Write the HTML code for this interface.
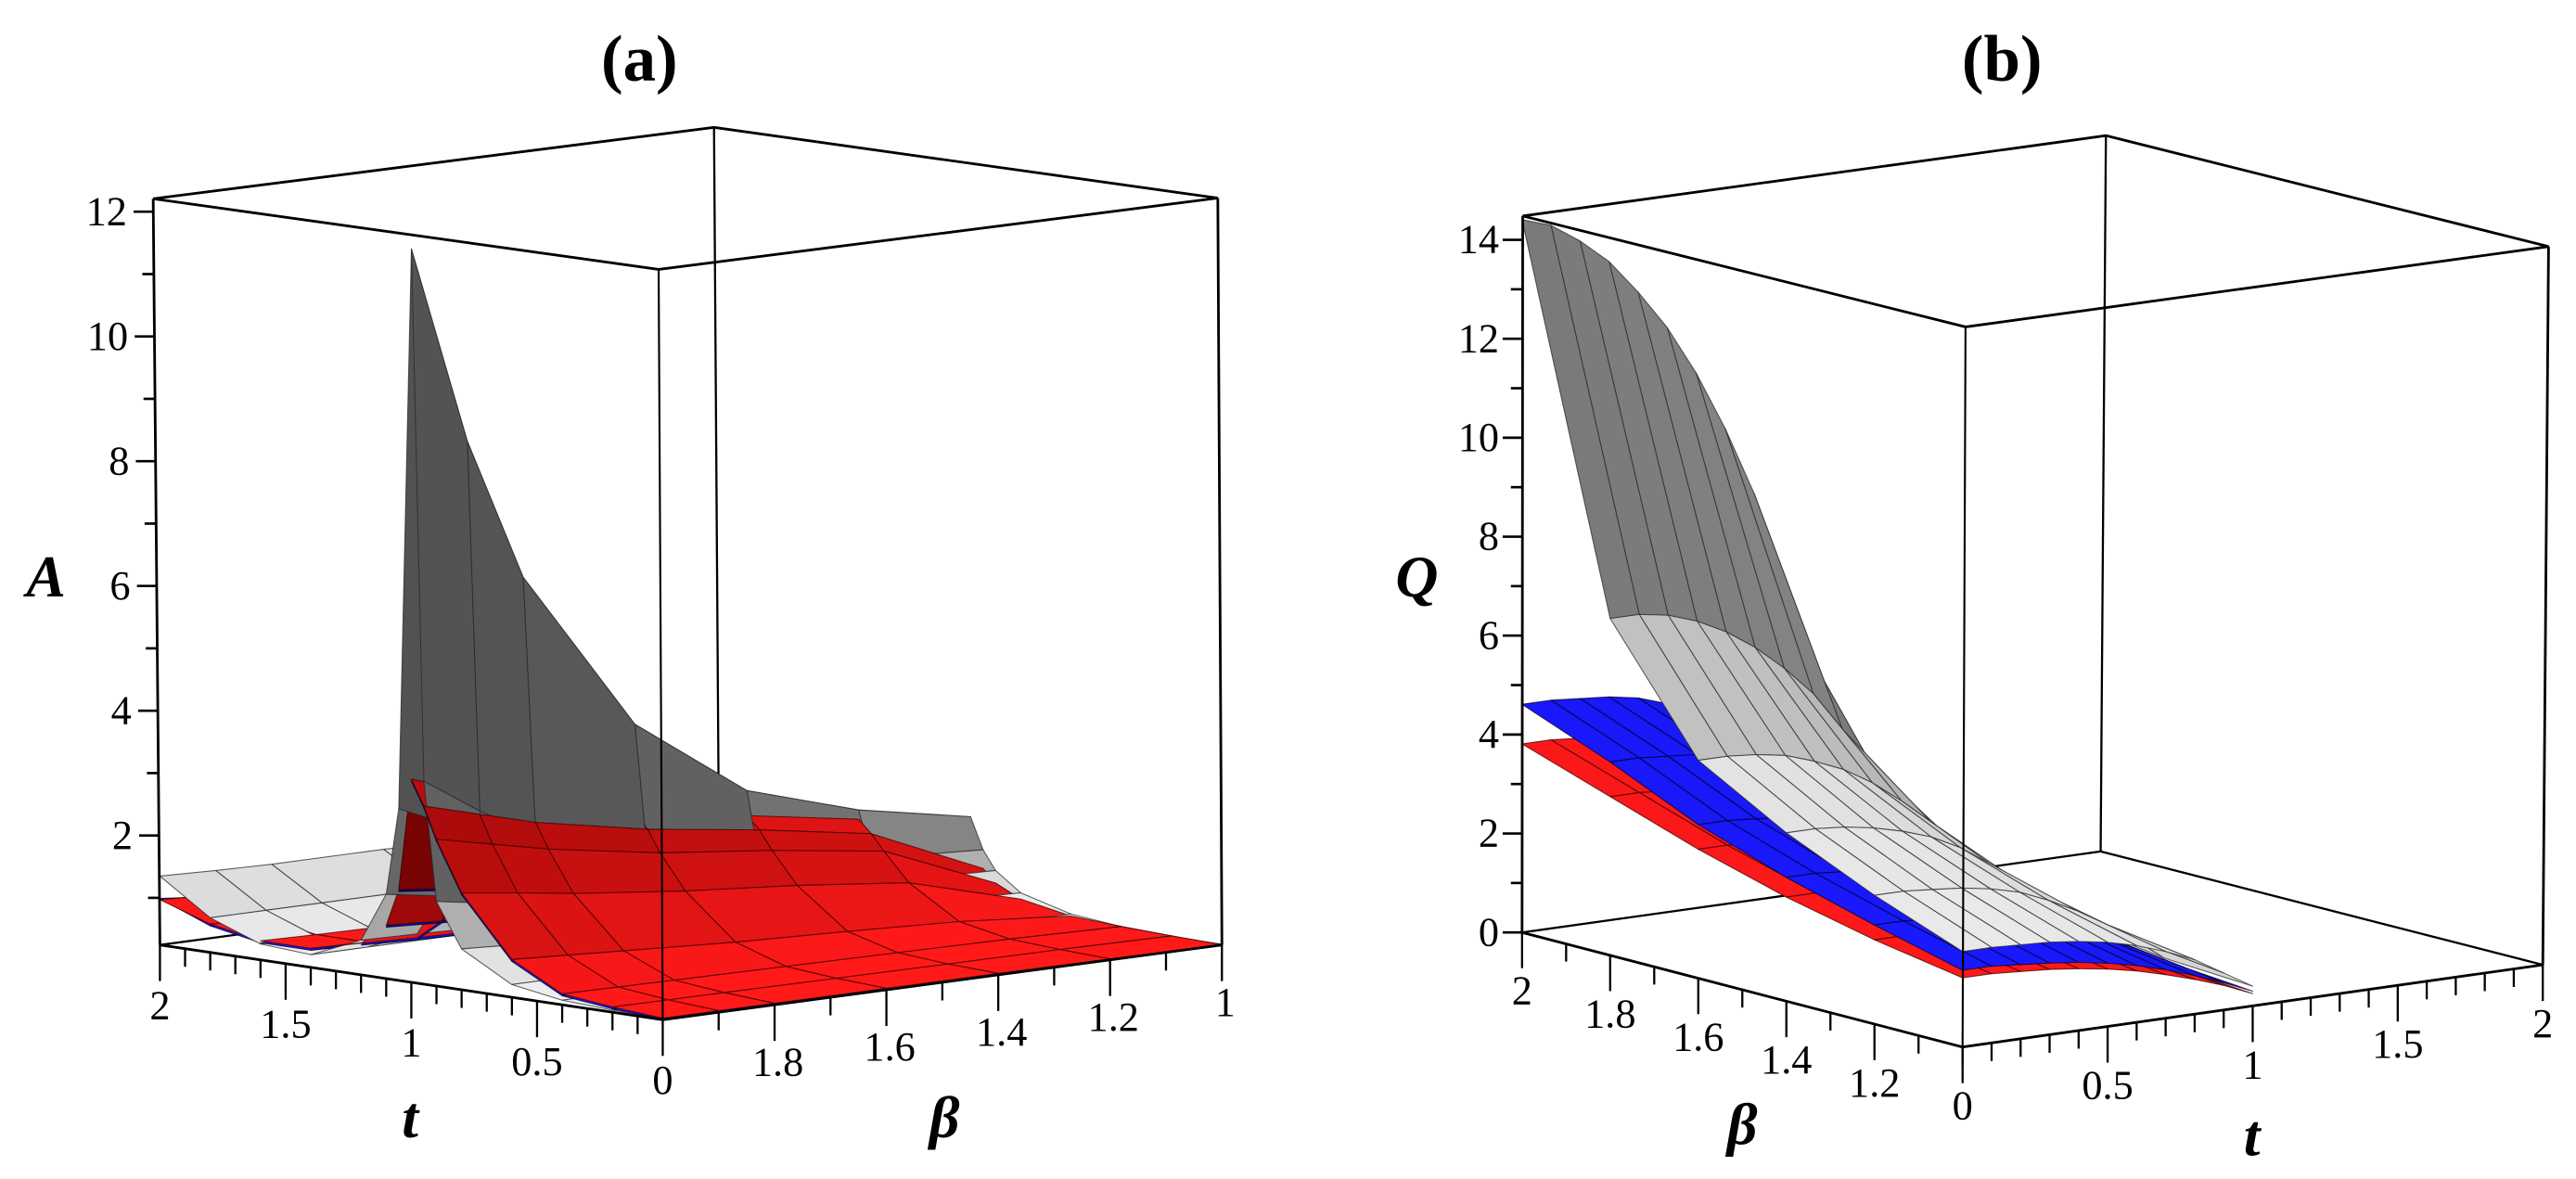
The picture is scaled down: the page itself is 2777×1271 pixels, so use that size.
<!DOCTYPE html>
<html><head><meta charset="utf-8"><style>
html,body{margin:0;padding:0;background:#fff;}
svg{display:block;}
text{font-family:"Liberation Serif","DejaVu Serif",serif;fill:#000;}
.tick{font-size:25px;}
.ttl{font-size:40px;font-weight:bold;}
.ax{font-size:36px;font-weight:bold;font-style:italic;}
</style></head><body>
<svg id="fig" xmlns="http://www.w3.org/2000/svg" width="2777" height="1271" viewBox="0 0 1567.2 717.3" preserveAspectRatio="none">
<g id="panelA">
  <text class="ttl" x="389" y="49" text-anchor="middle">(a)</text>
  <g id="aBack" stroke="#000" stroke-width="1.3" fill="none">
    <line x1="434.4" y1="77.5" x2="437.5" y2="529.4"/>
    <line x1="97.3" y1="574.9" x2="437.5" y2="529.4"/>
    <line x1="437.5" y1="529.4" x2="743.4" y2="574.9"/>
  </g>
  <g id="aSurf"></g>
  <g id="aFront" stroke="#000" stroke-width="1.6" fill="none">
    <polygon points="93.2,120.9 434.4,77.5 740.9,120.5 400.7,163.9"/>
    <line x1="93.2" y1="120.9" x2="97.3" y2="574.9"/>
    <line x1="400.7" y1="163.9" x2="403.2" y2="620.4" stroke-width="1.2"/>
    <line x1="740.9" y1="120.5" x2="743.4" y2="574.9"/>
    <line x1="97.3" y1="574.9" x2="403.2" y2="620.4"/>
    <line x1="403.2" y1="620.4" x2="743.4" y2="574.9"/>
  </g>
  <g id="aTicks"></g>
  <text class="ax" x="28" y="363" text-anchor="middle">A</text>
  <text class="ax" x="249.5" y="692" text-anchor="middle">t</text>
  <text class="ax" x="574.6" y="692" text-anchor="middle">β</text>
</g>
<g id="panelB">
  <text class="ttl" x="1218" y="49" text-anchor="middle">(b)</text>
  <g id="bBack" stroke="#000" stroke-width="1.3" fill="none">
    <line x1="1281.2" y1="82.5" x2="1278" y2="518"/>
    <line x1="926" y1="567.3" x2="1278" y2="518"/>
    <line x1="1278" y1="518" x2="1547" y2="587"/>
  </g>
  <g id="bSurf"></g>
  <g id="bFront" stroke="#000" stroke-width="1.6" fill="none">
    <polygon points="926.4,131.4 1281.2,82.5 1550.5,150 1195.8,198.9"/>
    <line x1="926.4" y1="131.4" x2="926" y2="567.3"/>
    <line x1="1195.8" y1="198.9" x2="1194" y2="637" stroke-width="1.2"/>
    <line x1="1550.5" y1="150" x2="1547" y2="587"/>
    <line x1="926" y1="567.3" x2="1194" y2="637"/>
    <line x1="1194" y1="637" x2="1547" y2="587"/>
  </g>
  <g id="bTicks"></g>
  <text class="ax" x="862" y="363" text-anchor="middle">Q</text>
  <text class="ax" x="1060" y="696" text-anchor="middle">β</text>
  <text class="ax" x="1370" y="703" text-anchor="middle">t</text>
</g>
</svg>
<script>
// ---------- Panel (a) data: A(beta, t) ----------
const A_T = [0,0.2,0.4,0.6,0.8,0.9,0.95,1,1.05,1.1,1.2,1.4,1.6,1.8,2];
const A_BETA = [2,1.9,1.8,1.6,1.4,1.2,1];
const grayA = [
 [0.25,0.28,0.32,0.45,0.9,1.6,3.5,12,3.0,1.6,0.8,0.45,0.5,0.8,1.35],
 [0.25,0.28,0.32,0.45,0.85,1.45,2.9,8.8,2.6,1.45,0.78,0.45,0.5,0.8,1.32],
 [0.25,0.28,0.32,0.45,0.8,1.3,2.4,6.5,2.2,1.3,0.75,0.45,0.5,0.8,1.3],
 [0.25,0.28,0.32,0.45,0.75,1.1,1.8,3.9,1.8,1.15,0.7,0.45,0.5,0.8,1.3],
 [0.25,0.28,0.32,0.42,0.7,1.0,1.5,2.6,1.5,1.05,0.7,0.45,0.5,0.8,1.25],
 [0.25,0.28,0.3,0.4,0.65,0.95,1.3,2.05,1.3,1.0,0.65,0.45,0.5,0.8,1.2],
 [0.25,0.27,0.3,0.38,0.6,0.9,1.2,1.7,1.2,0.95,0.65,0.45,0.5,0.75,1.2]];
const redA = [
 [0.27,0.33,0.42,0.85,1.8,2.6,3.1,3.5,1.7,1.1,0.75,0.55,0.55,0.7,0.97],
 [0.27,0.325,0.41,0.8,1.68,2.4,2.85,3.2,1.6,1.05,0.72,0.53,0.53,0.67,0.93],
 [0.27,0.32,0.4,0.75,1.55,2.2,2.6,2.9,1.5,1.0,0.7,0.52,0.52,0.65,0.9],
 [0.27,0.31,0.38,0.65,1.35,1.9,2.25,2.5,1.35,0.95,0.65,0.5,0.5,0.62,0.85],
 [0.27,0.3,0.36,0.58,1.2,1.7,2.0,2.2,1.2,0.9,0.6,0.48,0.48,0.6,0.8],
 [0.26,0.29,0.34,0.5,1.0,1.45,1.7,1.9,1.1,0.85,0.58,0.46,0.46,0.58,0.78],
 [0.25,0.27,0.3,0.35,0.5,0.7,0.9,1.1,0.8,0.65,0.5,0.42,0.42,0.5,0.7]];
const blueA = [
 [0.25,0.3,0.39,0.82,1.77,2.57,3.07,3.47,1.67,1.07,0.72,0.52,0.52,0.67,0.99],
 [0.25,0.3,0.38,0.77,1.65,2.37,2.82,3.17,1.57,1.02,0.69,0.5,0.5,0.64,0.9],
 [0.25,0.29,0.37,0.72,1.52,2.17,2.57,2.87,1.47,0.97,0.67,0.49,0.49,0.62,0.87],
 [0.25,0.28,0.35,0.62,1.32,1.87,2.22,2.47,1.32,0.92,0.62,0.47,0.47,0.59,0.82],
 [0.25,0.27,0.33,0.55,1.17,1.67,1.97,2.17,1.17,0.87,0.57,0.45,0.45,0.57,0.77],
 [0.25,0.26,0.31,0.47,0.97,1.42,1.67,1.87,1.07,0.82,0.55,0.43,0.43,0.55,0.75],
 [0.25,0.25,0.28,0.33,0.47,0.67,0.87,1.07,0.77,0.62,0.47,0.4,0.4,0.47,0.67]];
const A_Z_TICKS = [2,4,6,8,10,12];
const A_Z_LABELS = ["2","4","6","8","10","12"];
const A_T_TICKS = [0,0.5,1,1.5,2];
const A_T_LABELS = ["0","0.5","1","1.5","2"];
const A_B_TICKS = [1.8,1.6,1.4,1.2,1];
const A_B_LABELS = ["1.8","1.6","1.4","1.2","1"];

// ---------- Panel (b) data: Q(beta, t) ----------
const B_T = [0,0.1,0.2,0.3,0.4,0.5,0.6,0.7,0.8,0.9,1];
const B_BETA = [2,1.8,1.6,1.4,1.2,1];
const grayB = [
 [14.4,14.2,13.8,13.3,12.6,11.8,10.8,9.6,8.2,5.8,3.7],
 [6.8,6.8,6.7,6.5,6.2,5.8,5.3,4.7,3.9,3.1,2.3],
 [4.4,4.4,4.35,4.25,4.05,3.8,3.45,3.0,2.5,1.9,1.3],
 [3.4,3.4,3.35,3.25,3.1,2.9,2.6,2.2,1.75,1.25,0.75],
 [2.6,2.6,2.55,2.5,2.4,2.25,2.0,1.7,1.35,0.95,0.5],
 [1.93,1.93,1.9,1.87,1.8,1.7,1.55,1.35,1.1,0.75,0.4]];
const blueB = [
 [4.6,4.6,4.55,4.5,4.4,4.2,4.0,3.7,3.3,2.8,2.3],
 [3.9,3.9,3.85,3.8,3.7,3.5,3.3,3.0,2.6,2.2,1.7],
 [3.1,3.1,3.05,3.0,2.9,2.75,2.55,2.3,2.0,1.65,1.2],
 [2.5,2.5,2.45,2.4,2.3,2.15,1.95,1.7,1.4,1.05,0.7],
 [2.0,2.0,1.95,1.9,1.82,1.7,1.52,1.3,1.05,0.78,0.45],
 [1.55,1.55,1.5,1.45,1.38,1.28,1.15,0.98,0.78,0.55,0.3]];
const redB = [
 [3.8,3.8,3.75,3.7,3.6,3.45,3.25,3.0,2.65,2.25,1.8],
 [3.2,3.2,3.15,3.1,3.0,2.85,2.65,2.4,2.1,1.75,1.35],
 [2.6,2.6,2.55,2.5,2.4,2.3,2.1,1.9,1.65,1.35,1.0],
 [2.1,2.1,2.05,2.0,1.92,1.8,1.63,1.42,1.17,0.88,0.58],
 [1.7,1.7,1.66,1.62,1.55,1.45,1.3,1.1,0.88,0.65,0.38],
 [1.4,1.4,1.36,1.32,1.25,1.16,1.04,0.88,0.7,0.5,0.25]];
const B_Q_TICKS = [0,2,4,6,8,10,12,14];
const B_Q_LABELS = ["0","2","4","6","8","10","12","14"];
const B_B_TICKS = [2,1.8,1.6,1.4,1.2];
const B_B_LABELS = ["2","1.8","1.6","1.4","1.2"];
const B_T_TICKS = [0,0.5,1,1.5,2];
const B_T_LABELS = ["0","0.5","1","1.5","2"];

const NS = "http://www.w3.org/2000/svg";
function projA(beta, t, z){ return [403.2 - 152.95*t + 340.2*(2-beta), 620.4 - 22.75*t - 45.5*(2-beta) - (z-0.245)*37.95]; }
function worldA(beta, t, z){ return [t/2, 2-beta, z/12]; }
function upA(beta, t){ return 22.75*t + 45.5*(2-beta); }
function projB(beta, t, q){ return [1194 - 268*(beta-1) + 176.5*t, 637 - 70*(beta-1) - 25*t - q*30.1]; }
function worldB(beta, t, q){ return [t/2, beta-1, q/14.5]; }
function upB(beta, t){ return 70*(beta-1) + 25*t; }

const PAL = {
  gray:{dark:[80,80,80], light:[238,238,238], stroke:"#2a2a2a"},
  red:{dark:[105,0,0], light:[255,25,25], stroke:"#3a0000"},
  blue:{dark:[0,0,110], light:[25,25,255], stroke:"#00002a"}
};

function buildQuads(vals, betas, ts, proj, world, up, pal, list){
  for(let i=0;i<betas.length-1;i++){
    for(let j=0;j<ts.length-1;j++){
      const c=[[i,j],[i,j+1],[i+1,j+1],[i+1,j]];
      const pts=c.map(([a,b])=>proj(betas[a],ts[b],vals[a][b]));
      const w=c.map(([a,b])=>world(betas[a],ts[b],vals[a][b]));
      const d1=[w[2][0]-w[0][0],w[2][1]-w[0][1],w[2][2]-w[0][2]];
      const d2=[w[3][0]-w[1][0],w[3][1]-w[1][1],w[3][2]-w[1][2]];
      const n=[d1[1]*d2[2]-d1[2]*d2[1], d1[2]*d2[0]-d1[0]*d2[2], d1[0]*d2[1]-d1[1]*d2[0]];
      const len=Math.hypot(n[0],n[1],n[2])||1;
      const f=Math.abs(n[2])/len;
      const mz=(vals[i][j]+vals[i][j+1]+vals[i+1][j]+vals[i+1][j+1])/4;
      const u=up((betas[i]+betas[i+1])/2,(ts[j]+ts[j+1])/2);
      list.push({pts,f,pal,mz,u});
    }
  }
}
function drawQuads(list, gid, name){
  list.sort((a,b)=> Math.abs(a.u-b.u)>1e-6 ? b.u-a.u : a.mz-b.mz);
  const g=document.getElementById(gid);
  for(const q of list){
    const p=document.createElementNS(NS,"polygon");
    p.setAttribute("points",q.pts.map(x=>x[0].toFixed(1)+","+x[1].toFixed(1)).join(" "));
    const col=q.pal.dark.map((d,k)=>Math.round(d+(q.pal.light[k]-d)*Math.pow(q.f,1.3)));
    p.setAttribute("fill","rgb("+col.join(",")+")");
    p.setAttribute("stroke",q.pal.stroke);
    p.setAttribute("stroke-width","0.6");
    p.setAttribute("stroke-opacity","0.75");
    p.setAttribute("stroke-linejoin","round");
    
    
    g.appendChild(p);
  }
}
const listA=[];
buildQuads(grayA,A_BETA,A_T,projA,worldA,upA,PAL.gray,listA);
buildQuads(redA,A_BETA,A_T,projA,worldA,upA,PAL.red,listA);
buildQuads(blueA,A_BETA,A_T,projA,worldA,upA,PAL.blue,listA);
drawQuads(listA,"aSurf","surface-patch-a");
const listB=[];
buildQuads(grayB,B_BETA,B_T,projB,worldB,upB,PAL.gray,listB);
buildQuads(blueB,B_BETA,B_T,projB,worldB,upB,PAL.blue,listB);
buildQuads(redB,B_BETA,B_T,projB,worldB,upB,PAL.red,listB);
drawQuads(listB,"bSurf","surface-patch-b");

function line(g,x1,y1,x2,y2,w,name){
  const l=document.createElementNS(NS,"line");
  l.setAttribute("x1",x1);l.setAttribute("y1",y1);l.setAttribute("x2",x2);l.setAttribute("y2",y2);
  l.setAttribute("stroke","#000");l.setAttribute("stroke-width",w);
  
  
  g.appendChild(l);
}
function label(g,x,y,s,anchor,name){
  const t=document.createElementNS(NS,"text");
  t.setAttribute("x",x);t.setAttribute("y",y);t.setAttribute("class","tick");
  t.setAttribute("text-anchor",anchor);t.textContent=s;
  
  
  g.appendChild(t);
}
function zAxisX(y){ return 93.2 + 4.1*(y-120.9)/454; }
(function(){
  const g=document.getElementById("aTicks");
  for(let z=1;z<=12;z++){
    const y=584.2-z*37.95, x=zAxisX(y);
    const major=A_Z_TICKS.indexOf(z)>=0;
    line(g,x-(major?12:7),y,x,y,1.5,"z-tick");
  }
  A_Z_TICKS.forEach((z,k)=>{ const y=584.2-z*37.95; label(g,zAxisX(y)-16,y+8,A_Z_LABELS[k],"end","z-tick-label"); });
  for(let k=0;k<=20;k++){
    const t=k/10, p=projA(2,t,0.245);
    const major=A_T_TICKS.some(v=>Math.abs(v-t)<1e-6);
    line(g,p[0],p[1],p[0],p[1]+(major?22:11),1.3,"t-tick");
  }
  A_T_TICKS.forEach((t,k)=>{ const p=projA(2,t,0.245); label(g,p[0],p[1]+45,A_T_LABELS[k],"middle","t-tick-label"); });
  for(let k=1;k<=10;k++){
    const b=2-k/10, p=projA(b,0,0.245);
    const major=A_B_TICKS.some(v=>Math.abs(v-b)<1e-6);
    line(g,p[0],p[1],p[0],p[1]+(major?22:11),1.3,"beta-tick");
  }
  A_B_TICKS.forEach((b,k)=>{ const p=projA(b,0,0.245); label(g,p[0]+2,p[1]+43,A_B_LABELS[k],"middle","beta-tick-label"); });
})();
(function(){
  const g=document.getElementById("bTicks");
  for(let q=0;q<=14;q++){
    const y=567.3-q*30.1, x=926.2;
    const major=B_Q_TICKS.indexOf(q)>=0;
    line(g,x-(major?12:7),y,x,y,1.5,"q-tick");
  }
  B_Q_TICKS.forEach((q,k)=>{ const y=567.3-q*30.1; label(g,912,y+8,B_Q_LABELS[k],"end","q-tick-label"); });
  for(let k=0;k<=10;k++){
    const b=2-k/10, p=projB(b,0,0);
    const major=B_B_TICKS.some(v=>Math.abs(v-b)<1e-6);
    line(g,p[0],p[1],p[0],p[1]+(major?22:11),1.3,"beta-tick");
  }
  B_B_TICKS.forEach((b,k)=>{ const p=projB(b,0,0); label(g,p[0],p[1]+44,B_B_LABELS[k],"middle","beta-tick-label"); });
  for(let k=0;k<=20;k++){
    const t=k/10, p=projB(1,t,0);
    const major=B_T_TICKS.some(v=>Math.abs(v-t)<1e-6);
    line(g,p[0],p[1],p[0],p[1]+(major?22:11),1.3,"t-tick");
  }
  B_T_TICKS.forEach((t,k)=>{ const p=projB(1,t,0); label(g,p[0],p[1]+44,B_T_LABELS[k],"middle","t-tick-label"); });
})();
</script>
</body></html>
